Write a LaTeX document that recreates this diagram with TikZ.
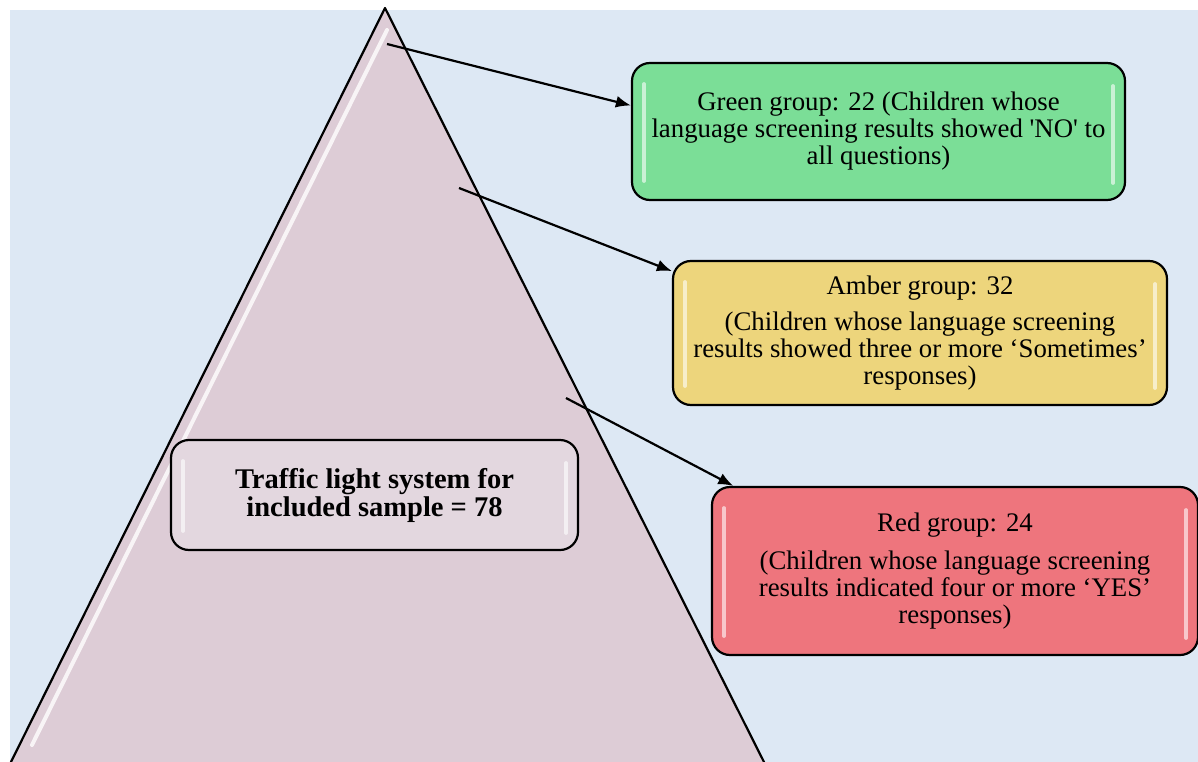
\documentclass[tikz,border=0pt]{standalone}
\usepackage{fontspec}
\setmainfont{Liberation Serif}
\usetikzlibrary{arrows.meta, positioning}

\definecolor{bgblue}{HTML}{DDE8F4}
\definecolor{pyrpink}{HTML}{DDCCD6}
\definecolor{grnfill}{HTML}{7BDE97}
\definecolor{ambfill}{HTML}{EDD57C}
\definecolor{redfill}{HTML}{EE757D}
\definecolor{sysfill}{HTML}{E3D7DF}

\begin{document}
\begin{tikzpicture}[
  x=1pt, y=-1pt,
  group/.style = {draw, line width=2.2pt, rounded corners=18pt, align=center,
                  inner sep=0pt, font=\fontsize{26.8}{27}\selectfont},
  arrow/.style = {line width=2.2pt, -{Latex[length=15pt, width=12pt]}},
  gloss/.style = {white, line width=3.5pt, line cap=round, opacity=0.6}
]

  \useasboundingbox (0,0) rectangle (1198,762);
  \clip (0,0) rectangle (1198,762);

  % Background panel
  \fill[bgblue] (10,10) rectangle (1198,762);

  % Pyramid
  \coordinate (apex) at (385,8);
  \coordinate (baseL) at (8,768);
  \coordinate (baseR) at (767,768);
  \fill[pyrpink] (apex) -- (baseL) -- (baseR) -- cycle;
  \draw[line width=2.2pt, line join=round] (baseL) -- (apex) -- (baseR);
  \draw[gloss, line width=4pt, opacity=0.8] (387,30) -- (32,745);

  % Start points on the pyramid
  \coordinate (fromG) at (387,44);
  \coordinate (fromA) at (459,188);
  \coordinate (fromR) at (566,398);

  % Sample box
  \node[group, fill=sysfill, minimum width=407pt, minimum height=110pt,
        font=\fontsize{28.5}{28}\selectfont\bfseries] (sample) at (374.5,495)
    {Traffic light system for\\ included sample = 78};

  % Green group
  \node[group, fill=grnfill, minimum width=493pt, minimum height=137pt] (green) at (878.5,131.5)
    {Green group: 22 (Children whose\\
     language screening results showed \textquotesingle NO\textquotesingle\ to\\
     all questions)};

  % Amber group
  \node[group, fill=ambfill, minimum width=494pt, minimum height=144pt] (amber) at (920,333)
    {Amber group: 32\\[9pt]
     (Children whose language screening\\
     results showed three or more ‘Sometimes’\\
     responses)};

  % Red group
  \node[group, fill=redfill, minimum width=486pt, minimum height=168pt] (red) at (955,571)
    {Red group: 24\\[11pt]
     (Children whose language screening\\
     results indicated four or more ‘YES’\\
     responses)};

  % Highlights on the boxes
  \foreach \b in {sample, green, amber, red} {
    \draw[gloss] ([xshift=13pt, yshift=-22pt]\b.north west) -- ([xshift=13pt, yshift=20pt]\b.south west);
    \draw[gloss] ([xshift=-13pt, yshift=-24pt]\b.north east) -- ([xshift=-13pt, yshift=18pt]\b.south east);
  }

  % Connections
  \draw[arrow] (fromG) -- (green.174);
  \draw[arrow] (fromA) -- (amber.166);
  \draw[arrow] (fromR) -- (red.159);

\end{tikzpicture}
\end{document}
